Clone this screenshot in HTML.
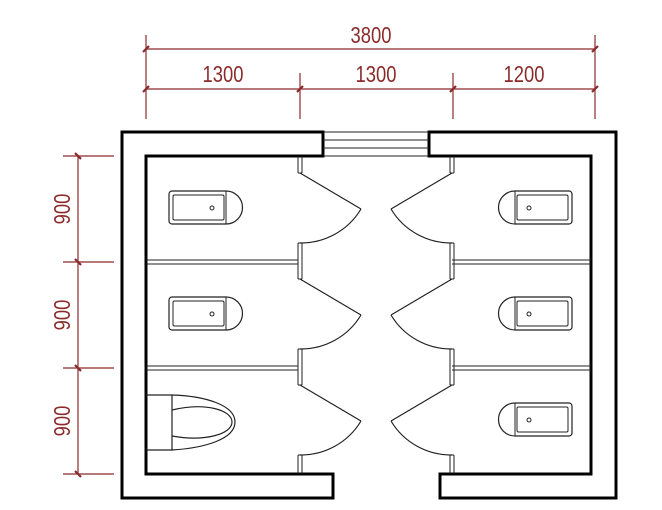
<!DOCTYPE html>
<html><head><style>html,body{margin:0;padding:0;background:#fff;}svg{display:block}</style></head>
<body>
<svg width="662" height="510" viewBox="0 0 662 510" xmlns="http://www.w3.org/2000/svg">
<defs>
<g id="sq">
  <path d="M169,194 a3,3 0 0 1 3,-3 h54 a16.5,16.5 0 0 1 0,33 h-54 a3,3 0 0 1 -3,-3 z" fill="none" stroke="#222" stroke-width="1.2"/>
  <rect x="173" y="195" width="51" height="25" rx="1.5" fill="none" stroke="#222" stroke-width="1"/>
  <line x1="226" y1="191" x2="226" y2="224" stroke="#222" stroke-width="1"/>
  <circle cx="212" cy="208" r="2" fill="none" stroke="#222" stroke-width="1"/>
</g>
<g id="doorL">
  <line x1="298" y1="156" x2="298" y2="173" stroke="#222" stroke-width="1"/>
  <line x1="302" y1="156" x2="302" y2="173" stroke="#222" stroke-width="1"/>
  <line x1="298" y1="173" x2="302" y2="173" stroke="#222" stroke-width="1"/>
  <line x1="300" y1="173" x2="361" y2="209" stroke="#222" stroke-width="1.2"/>
  <path d="M361,209 A70,70 0 0 1 300,243" fill="none" stroke="#222" stroke-width="1.2"/>
  <line x1="298" y1="243" x2="302" y2="243" stroke="#222" stroke-width="1"/>
  <line x1="298" y1="243" x2="298" y2="262" stroke="#222" stroke-width="1"/>
  <line x1="302" y1="243" x2="302" y2="262" stroke="#222" stroke-width="1"/>
</g>
</defs>
<!-- dimensions -->
<g stroke="#8b2a2a" stroke-width="1.2" fill="none">
  <line x1="146" y1="49" x2="595" y2="49"/>
  <line x1="146" y1="89" x2="595" y2="89"/>
  <line x1="146" y1="35" x2="146" y2="119"/>
  <line x1="595" y1="35" x2="595" y2="119"/>
  <line x1="300" y1="73" x2="300" y2="119"/>
  <line x1="453" y1="73" x2="453" y2="119"/>
  <g stroke-width="2.2">
    <line x1="143" y1="52" x2="149" y2="46"/><line x1="592" y1="52" x2="598" y2="46"/>
    <line x1="143" y1="92" x2="149" y2="86"/><line x1="297" y1="92" x2="303" y2="86"/>
    <line x1="450" y1="92" x2="456" y2="86"/><line x1="592" y1="92" x2="598" y2="86"/>
    <line x1="75" y1="153" x2="81" y2="159"/><line x1="75" y1="259" x2="81" y2="265"/>
    <line x1="75" y1="365" x2="81" y2="371"/><line x1="75" y1="471" x2="81" y2="477"/>
  </g>
  <line x1="78" y1="155" x2="78" y2="474"/>
  <line x1="63" y1="156" x2="114" y2="156"/>
  <line x1="63" y1="262" x2="114" y2="262"/>
  <line x1="63" y1="368" x2="114" y2="368"/>
  <line x1="63" y1="474" x2="114" y2="474"/>
</g>
<g fill="#8b2a2a" font-family="Liberation Sans, sans-serif" font-size="23" text-anchor="middle">
  <text x="371" y="43" transform="translate(371 0) scale(0.8 1) translate(-371 0)">3800</text>
  <text x="223" y="82" transform="translate(223 0) scale(0.8 1) translate(-223 0)">1300</text>
  <text x="376" y="82" transform="translate(376 0) scale(0.8 1) translate(-376 0)">1300</text>
  <text x="524" y="82" transform="translate(524 0) scale(0.8 1) translate(-524 0)">1200</text>
  <text transform="translate(70 209) rotate(-90) scale(0.8 1)" x="0" y="0">900</text>
  <text transform="translate(70 315) rotate(-90) scale(0.8 1)" x="0" y="0">900</text>
  <text transform="translate(70 421) rotate(-90) scale(0.8 1)" x="0" y="0">900</text>
</g>
<!-- walls -->
<g fill="none" stroke="#000" stroke-width="3">
  <path d="M323,132 H122 V498 H333 V474 H146 V156 H323 Z"/>
  <path d="M429,132 H616 V498 H440 V474 H591 V156 H429 Z"/>
</g>
<g stroke="#222" stroke-width="1">
  <line x1="323" y1="140" x2="429" y2="140"/>
  <line x1="323" y1="148" x2="429" y2="148"/>
  <line x1="323" y1="132" x2="429" y2="132"/>
  <line x1="323" y1="156" x2="429" y2="156"/>
</g>
<!-- partitions -->
<g stroke="#222" stroke-width="1">
  <line x1="146" y1="260" x2="298" y2="260"/><line x1="146" y1="264" x2="298" y2="264"/>
  <line x1="146" y1="366" x2="298" y2="366"/><line x1="146" y1="370" x2="298" y2="370"/>
  <line x1="452" y1="260" x2="591" y2="260"/><line x1="452" y1="264" x2="591" y2="264"/>
  <line x1="452" y1="366" x2="591" y2="366"/><line x1="452" y1="370" x2="591" y2="370"/>
</g>
<!-- doors -->
<use href="#doorL"/>
<use href="#doorL" transform="translate(0 106)"/>
<use href="#doorL" transform="translate(0 212)"/>
<use href="#doorL" transform="translate(752 0) scale(-1 1)"/>
<use href="#doorL" transform="translate(752 106) scale(-1 1)"/>
<use href="#doorL" transform="translate(752 212) scale(-1 1)"/>
<!-- toilets -->
<use href="#sq"/>
<use href="#sq" transform="translate(0 106)"/>
<use href="#sq" transform="translate(741 0) scale(-1 1)"/>
<use href="#sq" transform="translate(741 106) scale(-1 1)"/>
<use href="#sq" transform="translate(741 212) scale(-1 1)"/>
<g fill="none" stroke="#222" stroke-width="1.2">
  <path d="M146,395 H172 V450 H146"/>
  <path d="M172,395 C205,396 235,405 235,422 C235,439 205,448 172,450"/>
  <path d="M172,410 C205,402 232,410 232,422 C232,434 205,442 172,436"/>
</g>
</svg>
</body></html>
